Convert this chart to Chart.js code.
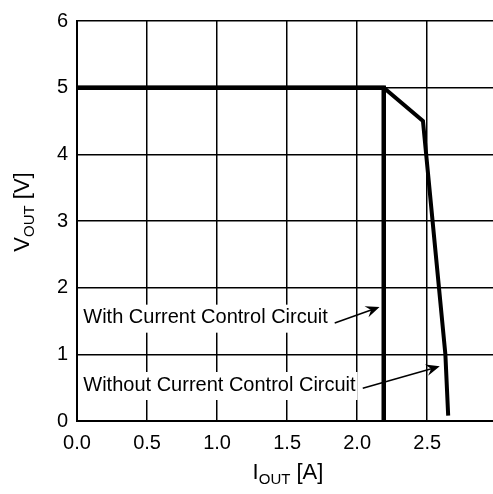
<!DOCTYPE html>
<html>
<head>
<meta charset="utf-8">
<script src="https://cdn.jsdelivr.net/npm/chart.js@4.4.0/dist/chart.umd.min.js"></script>
<style>
  html, body { margin: 0; padding: 0; background: #fff; }
  #wrap { width: 493px; height: 494px; }
</style>
</head>
<body>
<div id="wrap"><canvas id="vout"></canvas></div>
<script>
// curves (I_OUT in A, V_OUT in V)
const withX = [0, 2.19, 2.19];
const withY = [5, 5, 0];
const withoutX = [0, 2.19, 2.47, 2.63, 2.65];
const withoutY = [5, 5, 4.5, 1.0, 0.08];
const xTicks = [0, 0.5, 1.0, 1.5, 2.0, 2.5];
const yTicks = [0, 1, 2, 3, 4, 5, 6];

// callout labels: text, text anchor, arrow tail, arrow tip (data units)
const notes = [
  { text: 'With Current Control Circuit', at: [0.045, 1.55], from: [1.84, 1.47], to: [2.16, 1.71] },
  { text: 'Without Current Control Circuit', at: [0.045, 0.54], from: [2.04, 0.49], to: [2.59, 0.82] }
];

const FONT = '"Liberation Sans", Arial, sans-serif';

function pts(xs, ys) {
  return xs.map((x, i) => ({ x: x, y: ys[i] }));
}

const extras = {
  id: 'extras',
  afterDraw(chart) {
    const { ctx, scales: { x, y } } = chart;
    ctx.save();
    ctx.fillStyle = '#000';
    ctx.strokeStyle = '#000';

    // callouts
    ctx.font = '20px ' + FONT;
    ctx.textBaseline = 'middle';
    ctx.textAlign = 'left';
    notes.forEach(n => {
      const tx = x.getPixelForValue(n.at[0]), ty = y.getPixelForValue(n.at[1]);
      const w = ctx.measureText(n.text).width;
      ctx.fillStyle = '#fff';
      ctx.fillRect(tx - 3, ty - 13, w + 5, 28);
      ctx.fillStyle = '#000';
      ctx.fillText(n.text, tx, ty);
      const x0 = x.getPixelForValue(n.from[0]), y0 = y.getPixelForValue(n.from[1]);
      const x1 = x.getPixelForValue(n.to[0]), y1 = y.getPixelForValue(n.to[1]);
      const a = Math.atan2(y1 - y0, x1 - x0);
      ctx.lineWidth = 1.5;
      ctx.beginPath();
      ctx.moveTo(x0, y0);
      ctx.lineTo(x1 - 6 * Math.cos(a), y1 - 6 * Math.sin(a));
      ctx.stroke();
      ctx.beginPath();
      ctx.moveTo(x1, y1);
      ctx.lineTo(x1 - 15 * Math.cos(a - 0.4), y1 - 15 * Math.sin(a - 0.4));
      ctx.lineTo(x1 - 9 * Math.cos(a), y1 - 9 * Math.sin(a));
      ctx.lineTo(x1 - 15 * Math.cos(a + 0.4), y1 - 15 * Math.sin(a + 0.4));
      ctx.closePath();
      ctx.fill();
    });

    // axis titles with subscripts
    function subTitle(main, sub, rest, cx, cy, rot) {
      ctx.save();
      ctx.translate(cx, cy);
      ctx.rotate(rot);
      ctx.textBaseline = 'alphabetic';
      ctx.textAlign = 'left';
      const big = '22px ' + FONT, small = '15px ' + FONT;
      ctx.font = big; const w1 = ctx.measureText(main).width;
      ctx.font = small; const w2 = ctx.measureText(sub).width;
      ctx.font = big; const w3 = ctx.measureText(rest).width;
      let px = -(w1 + w2 + w3) / 2;
      ctx.font = big; ctx.fillText(main, px, 7); px += w1;
      ctx.font = small; ctx.fillText(sub, px, 12); px += w2;
      ctx.font = big; ctx.fillText(rest, px, 7);
      ctx.restore();
    }
    subTitle('I', 'OUT', ' [A]', 288, 472, 0);
    subTitle('V', 'OUT', ' [V]', 22, 212, -Math.PI / 2);
    ctx.restore();
  }
};

new Chart(document.getElementById('vout'), {
  type: 'line',
  data: {
    datasets: [
      {
        label: 'Without Current Control Circuit',
        data: pts(withoutX, withoutY),
        borderColor: '#000',
        borderWidth: 4,
        pointRadius: 0,
        tension: 0
      },
      {
        label: 'With Current Control Circuit',
        data: pts(withX, withY),
        borderColor: '#000',
        borderWidth: 4.5,
        pointRadius: 0,
        tension: 0
      }
    ]
  },
  options: {
    responsive: true,
    maintainAspectRatio: false,
    animation: false,
    layout: { padding: { top: 19, right: 0, left: 0, bottom: 0 } },
    scales: {
      x: {
        type: 'linear',
        min: 0,
        max: 2.97,
        afterFit: s => { s.height = 73; },
        afterBuildTicks: s => { s.ticks = xTicks.map(v => ({ value: v })); },
        ticks: {
          color: '#000',
          padding: 10,
          font: { family: FONT, size: 20 },
          callback: v => v.toFixed(1)
        },
        grid: { color: '#000', lineWidth: 1.5, drawTicks: false },
        border: { color: '#000', width: 2 }
      },
      y: {
        min: 0,
        max: 6,
        afterFit: s => { s.width = 77; },
        afterBuildTicks: s => { s.ticks = yTicks.map(v => ({ value: v })); },
        ticks: {
          color: '#000',
          padding: 9,
          font: { family: FONT, size: 20 }
        },
        grid: { color: '#000', lineWidth: 1.5, drawTicks: false },
        border: { color: '#000', width: 2 }
      }
    },
    plugins: {
      legend: { display: false },
      tooltip: { enabled: false }
    }
  },
  plugins: [extras]
});
</script>
</body>
</html>
